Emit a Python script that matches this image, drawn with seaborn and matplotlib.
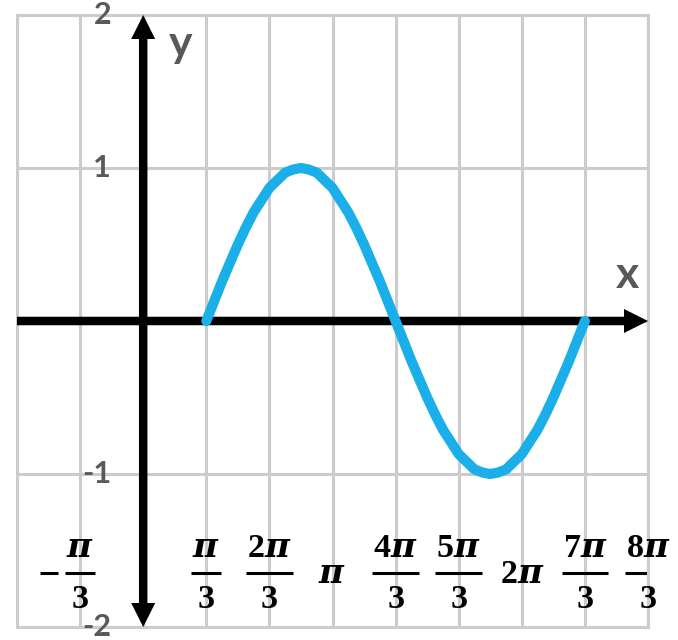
import seaborn as sns
import matplotlib.pyplot as plt
import pandas as pd

# x in units of pi/3, curve every 7.5 degrees
curve_x = [1.0, 1.125, 1.25, 1.375, 1.5, 1.625, 1.75, 1.875, 2.0, 2.125, 2.25, 2.375,
           2.5, 2.625, 2.75, 2.875, 3.0, 3.125, 3.25, 3.375, 3.5, 3.625, 3.75, 3.875,
           4.0, 4.125, 4.25, 4.375, 4.5, 4.625, 4.75, 4.875, 5.0, 5.125, 5.25, 5.375,
           5.5, 5.625, 5.75, 5.875, 6.0, 6.125, 6.25, 6.375, 6.5, 6.625, 6.75, 6.875, 7.0]
curve_y = [0.0, 0.13, 0.26, 0.38, 0.5, 0.61, 0.71, 0.79, 0.87, 0.92, 0.97, 0.99,
           1.0, 0.99, 0.97, 0.92, 0.87, 0.79, 0.71, 0.61, 0.5, 0.38, 0.26, 0.13,
           0.0, -0.13, -0.26, -0.38, -0.5, -0.61, -0.71, -0.79, -0.87, -0.92, -0.97, -0.99,
           -1.0, -0.99, -0.97, -0.92, -0.87, -0.79, -0.71, -0.61, -0.5, -0.38, -0.26, -0.13, 0.0]

x_ticks = [-1, 1, 2, 3, 4, 5, 6, 7, 8]
x_num = [r'$\pi$', r'$\pi$', r'$2\pi$', r'$\pi$', r'$4\pi$', r'$5\pi$', r'$2\pi$', r'$7\pi$', r'$8\pi$']
x_den = ['3', '3', '3', '', '3', '3', '', '3', '3']
y_ticks = [2, 1, -1, -2]
y_labels = ['2', '1', '-1', '-2']

sns.set_style('white')
plt.rcParams['mathtext.fontset'] = 'custom'
plt.rcParams['mathtext.rm'] = 'Liberation Serif:bold'
plt.rcParams['mathtext.it'] = 'DejaVu Serif:italic:bold'
plt.rcParams['mathtext.bf'] = 'Liberation Serif:bold'

fig = plt.figure(figsize=(6.78, 6.4), dpi=100)
ax = fig.add_axes([17 / 678, 1 - 627 / 640, 631 / 678, 612 / 640])
ax.set_xlim(-2, 8)
ax.set_ylim(-2, 2)

grid_c = '#cccccc'
ax.set_xticks(range(-2, 9))
ax.set_yticks(range(-2, 3))
ax.grid(True, color=grid_c, lw=2.2)
ax.tick_params(length=0, labelbottom=False, labelleft=False)
for s in ax.spines.values():
    s.set_color(grid_c)
    s.set_linewidth(2.2)

# pixel sizes converted to data units
px_x = 10 / 631
px_y = 4 / 612
lw_px, head_w, head_l = 8.5, 24, 24
ax.arrow(-2, 0, 10, 0, width=lw_px * px_y, head_width=head_w * px_y,
         head_length=head_l * px_x, length_includes_head=True, fc='black', ec='none', zorder=3)
for end in (2, -2):
    ax.arrow(0, 0, 0, end, width=lw_px * px_x, head_width=head_w * px_x,
             head_length=head_l * px_y, length_includes_head=True, fc='black', ec='none', zorder=3)

df = pd.DataFrame({'x': curve_x, 'y': curve_y})
sns.lineplot(data=df, x='x', y='y', ax=ax, color='#1aafe8', lw=7.3, zorder=4,
             solid_capstyle='round', solid_joinstyle='round')
ax.set_xlabel('')
ax.set_ylabel('')

txt_c = '#595959'
for v, lab in zip(y_ticks, y_labels):
    ax.text(-0.51, v, lab, ha='right', va='center', fontsize=22, fontweight='bold',
            family='Lato', color=txt_c, clip_on=False)


def py(p):
    return (321 - p) / 153


# x labels: hand-built fractions
fs = 24.5
fig.canvas.draw()
renderer = fig.canvas.get_renderer()
for v, num, den in zip(x_ticks, x_num, x_den):
    if not den:
        ax.text(v, py(583), num, ha='center', va='baseline', fontsize=fs, color='black')
        continue
    t = ax.text(v, py(557), num, ha='center', va='baseline', fontsize=fs, color='black')
    ax.text(v, py(608), den, ha='center', va='baseline', fontsize=fs, color='black',
            fontweight='bold', family='Liberation Serif')
    half = (t.get_window_extent(renderer).width / 2 + 1) * px_x
    ax.plot([v - half, v + half], [py(573)] * 2, color='black', lw=2.2,
            solid_capstyle='butt')
    if v < 0:
        ax.plot([(40 - 143) * px_x, (58 - 143) * px_x], [py(573)] * 2,
                color='black', lw=2.2, solid_capstyle='butt')

ax.text(0.6, 1.81, 'y', ha='center', va='center', fontsize=32, fontweight='bold',
        family='Lato', color=txt_c)
ax.text(7.67, 0.3, 'x', ha='center', va='center', fontsize=32, fontweight='bold',
        family='Lato', color=txt_c)

fig.savefig('out.png', dpi=100)
